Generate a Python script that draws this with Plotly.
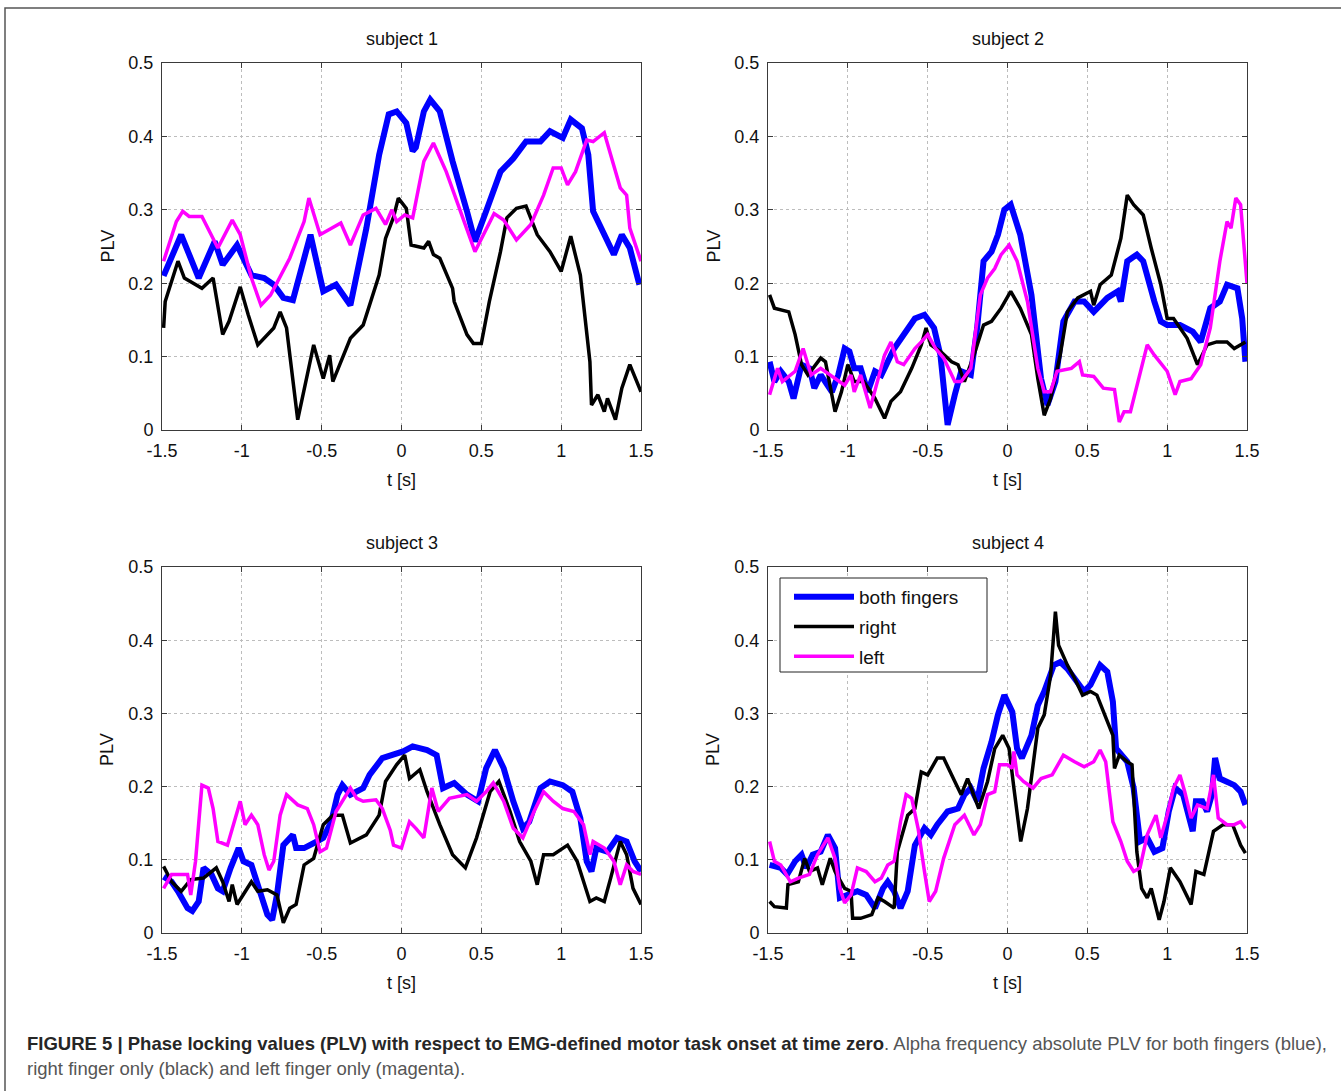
import plotly.graph_objects as go

# ---------------------------------------------------------------------------
# Phase locking values (PLV) over time, four subjects, three finger conditions
# Each series is a list of (t [s], PLV) samples.
# ---------------------------------------------------------------------------

SUBJECTS = ["subject 1", "subject 2", "subject 3", "subject 4"]
SERIES_NAMES = ["both fingers", "right", "left"]

T_TICKS = [-1.5, -1, -0.5, 0, 0.5, 1, 1.5]
T_TICK_LABELS = ["-1.5", "-1", "-0.5", "0", "0.5", "1", "1.5"]
PLV_TICKS = [0, 0.1, 0.2, 0.3, 0.4, 0.5]
PLV_TICK_LABELS = ["0", "0.1", "0.2", "0.3", "0.4", "0.5"]

S1_BOTH = [(-1.49, 0.21), (-1.38, 0.266), (-1.27, 0.207), (-1.17, 0.257), (-1.12, 0.225),
           (-1.03, 0.252), (-0.94, 0.211), (-0.86, 0.207), (-0.80, 0.198), (-0.74, 0.18),
           (-0.68, 0.177), (-0.57, 0.266), (-0.49, 0.189), (-0.41, 0.198), (-0.32, 0.17),
           (-0.22, 0.275), (-0.14, 0.375), (-0.08, 0.43), (-0.03, 0.434), (0.03, 0.418),
           (0.07, 0.38), (0.09, 0.385), (0.14, 0.434), (0.18, 0.45), (0.24, 0.434),
           (0.32, 0.366), (0.41, 0.298), (0.46, 0.257), (0.53, 0.298), (0.62, 0.352),
           (0.70, 0.37), (0.78, 0.393), (0.87, 0.393), (0.93, 0.407), (1.01, 0.398),
           (1.06, 0.423), (1.13, 0.411), (1.17, 0.375), (1.20, 0.298), (1.27, 0.266),
           (1.33, 0.239), (1.38, 0.266), (1.43, 0.248), (1.49, 0.198)]
S1_RIGHT = [(-1.49, 0.139), (-1.48, 0.175), (-1.40, 0.23), (-1.36, 0.207), (-1.25, 0.193),
            (-1.18, 0.207), (-1.12, 0.13), (-1.08, 0.148), (-1.01, 0.195), (-0.96, 0.157),
            (-0.90, 0.116), (-0.80, 0.139), (-0.76, 0.161), (-0.72, 0.139), (-0.65, 0.014),
            (-0.55, 0.116), (-0.49, 0.07), (-0.45, 0.102), (-0.43, 0.066), (-0.32, 0.125),
            (-0.24, 0.143), (-0.14, 0.211), (-0.10, 0.261), (-0.05, 0.29), (-0.02, 0.316),
            (0.03, 0.302), (0.06, 0.252), (0.14, 0.248), (0.17, 0.257), (0.20, 0.239),
            (0.24, 0.234), (0.32, 0.193), (0.33, 0.175), (0.41, 0.13), (0.45, 0.118),
            (0.50, 0.118), (0.55, 0.175), (0.62, 0.243), (0.66, 0.289), (0.72, 0.302),
            (0.78, 0.305), (0.85, 0.266), (0.93, 0.243), (1.00, 0.216), (1.06, 0.264),
            (1.12, 0.211), (1.18, 0.093), (1.19, 0.034), (1.23, 0.048), (1.27, 0.025),
            (1.29, 0.043), (1.34, 0.014), (1.38, 0.057), (1.43, 0.089), (1.50, 0.052)]
S1_LEFT = [(-1.49, 0.23), (-1.41, 0.284), (-1.37, 0.298), (-1.33, 0.291), (-1.25, 0.291),
           (-1.15, 0.248), (-1.06, 0.286), (-1.01, 0.266), (-0.94, 0.207), (-0.88, 0.17),
           (-0.82, 0.184), (-0.70, 0.234), (-0.61, 0.284), (-0.58, 0.316), (-0.51, 0.266),
           (-0.45, 0.273), (-0.38, 0.282), (-0.32, 0.252), (-0.24, 0.293), (-0.16, 0.302),
           (-0.10, 0.28), (-0.06, 0.30), (-0.03, 0.284), (0.02, 0.293), (0.07, 0.289),
           (0.14, 0.366), (0.20, 0.391), (0.28, 0.352), (0.37, 0.298), (0.46, 0.243),
           (0.58, 0.295), (0.64, 0.286), (0.72, 0.259), (0.81, 0.28), (0.89, 0.32),
           (0.95, 0.357), (1.00, 0.357), (1.04, 0.334), (1.09, 0.352), (1.16, 0.395),
           (1.20, 0.393), (1.27, 0.405), (1.31, 0.375), (1.37, 0.33), (1.41, 0.32),
           (1.43, 0.275), (1.50, 0.23)]

S2_BOTH = [(-1.49, 0.093), (-1.46, 0.066), (-1.42, 0.08), (-1.37, 0.066), (-1.34, 0.043),
           (-1.29, 0.089), (-1.24, 0.084), (-1.21, 0.057), (-1.17, 0.075), (-1.10, 0.052),
           (-1.06, 0.075), (-1.02, 0.111), (-0.99, 0.107), (-0.96, 0.084), (-0.92, 0.084),
           (-0.875, 0.052), (-0.83, 0.08), (-0.79, 0.075), (-0.71, 0.111), (-0.65, 0.13),
           (-0.58, 0.152), (-0.52, 0.157), (-0.46, 0.139), (-0.42, 0.102), (-0.375, 0.007),
           (-0.33, 0.048), (-0.29, 0.08), (-0.23, 0.075), (-0.19, 0.139), (-0.15, 0.23),
           (-0.10, 0.243), (-0.06, 0.266), (-0.02, 0.30), (0.02, 0.307), (0.08, 0.266),
           (0.15, 0.184), (0.21, 0.07), (0.25, 0.034), (0.30, 0.066), (0.35, 0.148),
           (0.42, 0.175), (0.48, 0.175), (0.54, 0.161), (0.625, 0.18), (0.69, 0.189),
           (0.71, 0.175), (0.75, 0.23), (0.81, 0.239), (0.85, 0.23), (0.92, 0.175),
           (0.96, 0.148), (1.00, 0.143), (1.08, 0.143), (1.16, 0.134), (1.21, 0.12),
           (1.27, 0.166), (1.33, 0.175), (1.375, 0.198), (1.44, 0.193), (1.47, 0.152),
           (1.49, 0.093)]
S2_RIGHT = [(-1.49, 0.184), (-1.46, 0.166), (-1.37, 0.161), (-1.33, 0.13), (-1.29, 0.089),
            (-1.25, 0.075), (-1.17, 0.098), (-1.14, 0.093), (-1.08, 0.025), (-1.04, 0.052),
            (-1.00, 0.089), (-0.96, 0.066), (-0.90, 0.066), (-0.83, 0.043), (-0.77, 0.016),
            (-0.73, 0.039), (-0.67, 0.052), (-0.60, 0.084), (-0.54, 0.116), (-0.51, 0.139),
            (-0.48, 0.116), (-0.42, 0.107), (-0.35, 0.093), (-0.31, 0.089), (-0.27, 0.066),
            (-0.21, 0.102), (-0.15, 0.143), (-0.10, 0.148), (-0.04, 0.166), (0.02, 0.189),
            (0.08, 0.166), (0.15, 0.13), (0.19, 0.07), (0.23, 0.02), (0.27, 0.043),
            (0.33, 0.102), (0.375, 0.161), (0.44, 0.18), (0.52, 0.189), (0.54, 0.17),
            (0.58, 0.198), (0.65, 0.211), (0.71, 0.261), (0.75, 0.32), (0.79, 0.307),
            (0.85, 0.293), (0.90, 0.248), (0.96, 0.198), (1.00, 0.152), (1.04, 0.152),
            (1.125, 0.125), (1.17, 0.102), (1.19, 0.089), (1.25, 0.116), (1.31, 0.12),
            (1.375, 0.12), (1.42, 0.111), (1.49, 0.12)]
S2_LEFT = [(-1.49, 0.048), (-1.44, 0.084), (-1.41, 0.066), (-1.33, 0.08), (-1.28, 0.111),
           (-1.23, 0.075), (-1.17, 0.084), (-1.08, 0.07), (-1.02, 0.061), (-0.98, 0.075),
           (-0.96, 0.052), (-0.92, 0.075), (-0.86, 0.03), (-0.81, 0.07), (-0.77, 0.102),
           (-0.73, 0.12), (-0.69, 0.093), (-0.65, 0.089), (-0.58, 0.111), (-0.54, 0.12),
           (-0.50, 0.13), (-0.45, 0.111), (-0.40, 0.098), (-0.33, 0.066), (-0.29, 0.066),
           (-0.23, 0.084), (-0.17, 0.184), (-0.125, 0.207), (-0.08, 0.22), (-0.04, 0.239),
           (0.01, 0.252), (0.06, 0.23), (0.125, 0.175), (0.19, 0.084), (0.23, 0.052),
           (0.27, 0.052), (0.31, 0.08), (0.40, 0.084), (0.45, 0.093), (0.47, 0.075),
           (0.54, 0.073), (0.60, 0.057), (0.67, 0.055), (0.70, 0.011), (0.73, 0.025),
           (0.77, 0.025), (0.83, 0.075), (0.875, 0.116), (0.92, 0.102), (1.00, 0.08),
           (1.05, 0.048), (1.08, 0.066), (1.15, 0.07), (1.21, 0.089), (1.27, 0.139),
           (1.33, 0.23), (1.375, 0.284), (1.40, 0.275), (1.43, 0.316), (1.46, 0.307),
           (1.50, 0.2)]

S3_BOTH = [(-1.49, 0.077), (-1.44, 0.07), (-1.40, 0.057), (-1.34, 0.034), (-1.31, 0.03),
           (-1.27, 0.043), (-1.24, 0.089), (-1.19, 0.08), (-1.15, 0.061), (-1.12, 0.057),
           (-1.07, 0.089), (-1.02, 0.116), (-0.99, 0.098), (-0.94, 0.093), (-0.88, 0.052),
           (-0.84, 0.025), (-0.81, 0.018), (-0.78, 0.052), (-0.74, 0.12), (-0.68, 0.134),
           (-0.66, 0.116), (-0.61, 0.116), (-0.53, 0.125), (-0.49, 0.13), (-0.44, 0.152),
           (-0.40, 0.189), (-0.37, 0.202), (-0.32, 0.189), (-0.24, 0.198), (-0.20, 0.216),
           (-0.12, 0.239), (-0.04, 0.245), (0.01, 0.248), (0.07, 0.255), (0.16, 0.25),
           (0.22, 0.243), (0.26, 0.198), (0.33, 0.205), (0.41, 0.189), (0.48, 0.18),
           (0.53, 0.225), (0.585, 0.25), (0.64, 0.225), (0.70, 0.18), (0.76, 0.143),
           (0.80, 0.152), (0.87, 0.198), (0.93, 0.207), (1.01, 0.202), (1.07, 0.193),
           (1.12, 0.157), (1.16, 0.098), (1.19, 0.084), (1.22, 0.116), (1.29, 0.111),
           (1.35, 0.13), (1.41, 0.125), (1.46, 0.098), (1.50, 0.084)]
S3_RIGHT = [(-1.49, 0.091), (-1.44, 0.07), (-1.38, 0.057), (-1.32, 0.073), (-1.24, 0.075),
            (-1.16, 0.089), (-1.12, 0.07), (-1.08, 0.043), (-1.06, 0.066), (-1.03, 0.039),
            (-0.94, 0.07), (-0.90, 0.057), (-0.84, 0.059), (-0.78, 0.052), (-0.74, 0.014),
            (-0.70, 0.034), (-0.66, 0.039), (-0.61, 0.093), (-0.55, 0.102), (-0.49, 0.148),
            (-0.43, 0.161), (-0.37, 0.161), (-0.32, 0.123), (-0.22, 0.134), (-0.14, 0.161),
            (-0.10, 0.207), (-0.03, 0.23), (0.02, 0.243), (0.05, 0.211), (0.115, 0.223),
            (0.16, 0.193), (0.24, 0.148), (0.32, 0.107), (0.40, 0.089), (0.47, 0.13),
            (0.555, 0.193), (0.61, 0.207), (0.68, 0.166), (0.74, 0.125), (0.81, 0.098),
            (0.85, 0.066), (0.89, 0.107), (0.95, 0.107), (1.04, 0.12), (1.10, 0.098),
            (1.18, 0.043), (1.22, 0.048), (1.27, 0.043), (1.31, 0.075), (1.37, 0.125),
            (1.41, 0.107), (1.45, 0.061), (1.50, 0.039)]
S3_LEFT = [(-1.49, 0.061), (-1.44, 0.08), (-1.40, 0.08), (-1.34, 0.08), (-1.32, 0.052),
           (-1.29, 0.098), (-1.25, 0.202), (-1.21, 0.198), (-1.18, 0.17), (-1.15, 0.125),
           (-1.09, 0.12), (-1.05, 0.152), (-1.01, 0.18), (-0.98, 0.148), (-0.94, 0.161),
           (-0.90, 0.148), (-0.86, 0.107), (-0.83, 0.086), (-0.80, 0.098), (-0.76, 0.161),
           (-0.72, 0.189), (-0.65, 0.175), (-0.59, 0.17), (-0.55, 0.148), (-0.51, 0.111),
           (-0.47, 0.116), (-0.41, 0.166), (-0.32, 0.198), (-0.28, 0.184), (-0.24, 0.18),
           (-0.16, 0.182), (-0.12, 0.17), (-0.07, 0.14), (-0.05, 0.12), (0.0, 0.116),
           (0.05, 0.152), (0.09, 0.143), (0.14, 0.13), (0.19, 0.198), (0.23, 0.166),
           (0.30, 0.184), (0.41, 0.189), (0.47, 0.18), (0.53, 0.193), (0.575, 0.205),
           (0.64, 0.18), (0.70, 0.143), (0.76, 0.13), (0.83, 0.166), (0.89, 0.193),
           (0.95, 0.18), (1.01, 0.17), (1.08, 0.166), (1.14, 0.148), (1.18, 0.107),
           (1.20, 0.125), (1.27, 0.116), (1.33, 0.098), (1.37, 0.066), (1.41, 0.093),
           (1.45, 0.084), (1.50, 0.08)]

S4_BOTH = [(-1.49, 0.093), (-1.42, 0.089), (-1.38, 0.08), (-1.33, 0.098), (-1.29, 0.107),
           (-1.26, 0.089), (-1.22, 0.107), (-1.17, 0.111), (-1.125, 0.134), (-1.08, 0.116),
           (-1.05, 0.048), (-1.00, 0.052), (-0.94, 0.057), (-0.885, 0.052), (-0.83, 0.034),
           (-0.78, 0.061), (-0.75, 0.07), (-0.71, 0.057), (-0.67, 0.034), (-0.625, 0.057),
           (-0.58, 0.12), (-0.52, 0.143), (-0.48, 0.134), (-0.44, 0.148), (-0.375, 0.166),
           (-0.31, 0.17), (-0.27, 0.189), (-0.23, 0.198), (-0.19, 0.18), (-0.15, 0.225),
           (-0.10, 0.261), (-0.06, 0.298), (-0.02, 0.325), (0.03, 0.302), (0.06, 0.252),
           (0.09, 0.239), (0.15, 0.27), (0.19, 0.311), (0.23, 0.33), (0.29, 0.366),
           (0.33, 0.37), (0.375, 0.361), (0.44, 0.343), (0.48, 0.33), (0.52, 0.339),
           (0.58, 0.366), (0.625, 0.357), (0.66, 0.316), (0.68, 0.252), (0.71, 0.243),
           (0.75, 0.234), (0.79, 0.198), (0.83, 0.125), (0.875, 0.13), (0.92, 0.111),
           (0.97, 0.116), (1.01, 0.166), (1.05, 0.198), (1.10, 0.189), (1.16, 0.139),
           (1.18, 0.18), (1.22, 0.18), (1.25, 0.166), (1.28, 0.189), (1.30, 0.239),
           (1.33, 0.211), (1.375, 0.207), (1.42, 0.202), (1.46, 0.193), (1.49, 0.175)]
S4_RIGHT = [(-1.49, 0.043), (-1.46, 0.036), (-1.385, 0.034), (-1.375, 0.066), (-1.31, 0.07),
            (-1.27, 0.102), (-1.24, 0.084), (-1.19, 0.089), (-1.16, 0.066), (-1.11, 0.102),
            (-1.08, 0.084), (-1.02, 0.061), (-0.98, 0.057), (-0.97, 0.02), (-0.92, 0.02),
            (-0.85, 0.025), (-0.81, 0.048), (-0.77, 0.043), (-0.71, 0.034), (-0.69, 0.111),
            (-0.625, 0.161), (-0.58, 0.17), (-0.54, 0.22), (-0.50, 0.216), (-0.44, 0.239),
            (-0.40, 0.239), (-0.33, 0.207), (-0.29, 0.189), (-0.25, 0.211), (-0.21, 0.189),
            (-0.18, 0.17), (-0.125, 0.207), (-0.08, 0.252), (-0.03, 0.27), (0.01, 0.252),
            (0.04, 0.198), (0.06, 0.161), (0.083, 0.125), (0.125, 0.17), (0.19, 0.28),
            (0.23, 0.298), (0.27, 0.352), (0.30, 0.439), (0.32, 0.393), (0.375, 0.366),
            (0.42, 0.348), (0.47, 0.325), (0.52, 0.33), (0.56, 0.325), (0.615, 0.293),
            (0.66, 0.27), (0.67, 0.225), (0.70, 0.243), (0.75, 0.234), (0.78, 0.23),
            (0.81, 0.111), (0.84, 0.061), (0.875, 0.048), (0.90, 0.061), (0.95, 0.018),
            (0.98, 0.043), (1.02, 0.089), (1.08, 0.07), (1.15, 0.039), (1.18, 0.084),
            (1.23, 0.08), (1.29, 0.139), (1.35, 0.148), (1.41, 0.148), (1.46, 0.12),
            (1.49, 0.109)]
S4_LEFT = [(-1.49, 0.125), (-1.46, 0.098), (-1.42, 0.093), (-1.36, 0.07), (-1.31, 0.075),
           (-1.24, 0.08), (-1.19, 0.107), (-1.125, 0.13), (-1.08, 0.102), (-1.05, 0.061),
           (-1.02, 0.041), (-0.98, 0.052), (-0.94, 0.089), (-0.885, 0.084), (-0.83, 0.07),
           (-0.79, 0.075), (-0.75, 0.093), (-0.71, 0.098), (-0.67, 0.152), (-0.635, 0.189),
           (-0.60, 0.184), (-0.56, 0.143), (-0.52, 0.084), (-0.49, 0.043), (-0.45, 0.057),
           (-0.40, 0.102), (-0.33, 0.148), (-0.27, 0.161), (-0.21, 0.134), (-0.17, 0.148),
           (-0.125, 0.189), (-0.08, 0.193), (-0.05, 0.23), (0.0, 0.23), (0.03, 0.225),
           (0.04, 0.248), (0.06, 0.216), (0.10, 0.207), (0.16, 0.198), (0.21, 0.211),
           (0.28, 0.216), (0.35, 0.243), (0.42, 0.234), (0.48, 0.227), (0.54, 0.234),
           (0.58, 0.25), (0.615, 0.234), (0.66, 0.152), (0.71, 0.125), (0.75, 0.098),
           (0.79, 0.084), (0.83, 0.089), (0.875, 0.134), (0.93, 0.161), (0.96, 0.13),
           (1.00, 0.161), (1.04, 0.198), (1.08, 0.216), (1.11, 0.193), (1.15, 0.157),
           (1.19, 0.175), (1.25, 0.17), (1.29, 0.216), (1.32, 0.157), (1.375, 0.148),
           (1.42, 0.148), (1.46, 0.152), (1.49, 0.143)]

PANEL_DATA = [
    (S1_BOTH, S1_RIGHT, S1_LEFT),
    (S2_BOTH, S2_RIGHT, S2_LEFT),
    (S3_BOTH, S3_RIGHT, S3_LEFT),
    (S4_BOTH, S4_RIGHT, S4_LEFT),
]

# ---------------------------------------------------------------------------
# Styling / layout (pixel geometry of the page)
# ---------------------------------------------------------------------------
W, H = 1341, 1091
FONT = "Liberation Sans, Arial, Helvetica, sans-serif"
LINE_COLORS = ["#0000ff", "#000000", "#ff00ff"]
LINE_WIDTHS = [6, 3.5, 3.5]
AXIS_COLOR = "#3a3a3a"
TEXT_COLOR = "#111111"

# (left, right, top, bottom) in pixels for each panel
PANEL_BOXES = [
    (162, 641, 63, 430),
    (768, 1247, 63, 430),
    (162, 641, 567, 933),
    (768, 1247, 567, 933),
]
LEGEND_BOX = (780, 987, 578, 672)


def px(x):
    return x / W


def py(y):
    return 1 - y / H


def label(text, x, y, size=18, angle=0):
    return dict(text=text, x=px(x), y=py(y), xref="paper", yref="paper",
                xanchor="center", yanchor="middle", showarrow=False,
                textangle=angle, font=dict(family=FONT, size=size, color=TEXT_COLOR))


fig = go.Figure()
annotations = []

for i, (box, series) in enumerate(zip(PANEL_BOXES, PANEL_DATA)):
    left, right, top, bottom = box
    suffix = "" if i == 0 else str(i + 1)
    for j, pts in enumerate(series):
        fig.add_trace(go.Scatter(
            x=[p[0] for p in pts],
            y=[p[1] for p in pts],
            mode="lines",
            name=SERIES_NAMES[j],
            legendgroup=SERIES_NAMES[j],
            line=dict(color=LINE_COLORS[j], width=LINE_WIDTHS[j]),
            xaxis="x" + suffix,
            yaxis="y" + suffix,
            showlegend=(i == 3),
            hoverinfo="skip",
        ))

    common = dict(
        showline=True, linecolor=AXIS_COLOR, linewidth=1, mirror="ticks",
        ticks="inside", ticklen=5, tickcolor=AXIS_COLOR, tickwidth=1,
        showgrid=True, gridcolor="#bdbdbd", gridwidth=1, griddash="dot",
        zeroline=False, fixedrange=True, automargin=False,
        tickfont=dict(family=FONT, size=18, color=TEXT_COLOR),
    )
    fig.layout["xaxis" + suffix] = dict(
        common, domain=[px(left), px(right)], range=[-1.5, 1.5],
        tickvals=T_TICKS, ticktext=T_TICK_LABELS,
        anchor="y" + suffix, ticklabelstandoff=4,
    )
    fig.layout["yaxis" + suffix] = dict(
        common, domain=[py(bottom), py(top)], range=[0, 0.5],
        tickvals=PLV_TICKS, ticktext=PLV_TICK_LABELS,
        anchor="x" + suffix, ticklabelstandoff=4,
    )

    cx = (left + right) / 2
    cy = (top + bottom) / 2
    annotations.append(label(SUBJECTS[i], cx, top - 24))
    annotations.append(label("t [s]", cx, bottom + 50))
    annotations.append(label("PLV", left - 55, cy, angle=-90))

# Figure caption
annotations.append(dict(
    text=("<b>FIGURE 5 | Phase locking values (PLV) with respect to EMG-defined motor task "
          "onset at time zero</b><span style='color:#555555'>. Alpha frequency absolute PLV "
          "for both fingers (blue),</span>"),
    x=px(25), y=py(1043), xref="paper", yref="paper", xanchor="left", yanchor="middle",
    showarrow=False, font=dict(family=FONT, size=18.5, color="#262626")))
annotations.append(dict(
    text="right finger only (black) and left finger only (magenta).",
    x=px(25), y=py(1068), xref="paper", yref="paper", xanchor="left", yanchor="middle",
    showarrow=False, font=dict(family=FONT, size=18.5, color="#555555")))

lb_l, lb_r, lb_t, lb_b = LEGEND_BOX
fig.update_layout(
    width=W, height=H, autosize=False,
    margin=dict(l=0, r=0, t=0, b=0, pad=0, autoexpand=False),
    paper_bgcolor="white", plot_bgcolor="white",
    annotations=annotations,
    shapes=[
        # outer figure frame
        dict(type="rect", xref="paper", yref="paper",
             x0=px(5), x1=px(1350), y0=py(8), y1=py(1100),
             line=dict(color="#555", width=1.5), fillcolor="rgba(0,0,0,0)"),
        # legend box
        dict(type="rect", xref="paper", yref="paper",
             x0=px(lb_l), x1=px(lb_r), y0=py(lb_b), y1=py(lb_t),
             line=dict(color="#222", width=1), fillcolor="white", layer="above"),
    ],
    legend=dict(
        x=px(lb_l + 9), y=py(lb_t), xanchor="left", yanchor="top",
        bgcolor="rgba(0,0,0,0)", borderwidth=0,
        font=dict(family=FONT, size=19, color=TEXT_COLOR),
        itemwidth=60, tracegroupgap=2,
    ),
    showlegend=True,
)

fig.write_html("out.html")
